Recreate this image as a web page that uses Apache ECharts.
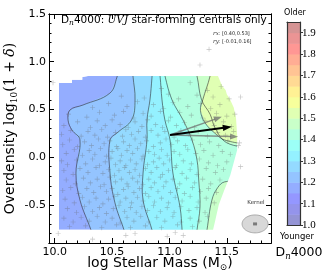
<!DOCTYPE html>
<html><head><meta charset="utf-8">
<script src="https://cdn.jsdelivr.net/npm/echarts@6/dist/echarts.min.js"></script>
<style>html,body{margin:0;padding:0;background:#fff}#c{width:323px;height:278px}</style>
</head><body><div id="c"></div>
<script>
// ---------------- data ----------------
const xRange = [9.95, 11.885];
const yRange = [-0.9, 1.5];
const xMajor = [10.0, 10.5, 11.0, 11.5];
const xMinor = [10.1, 10.2, 10.3, 10.4, 10.6, 10.7, 10.8, 10.9, 11.1, 11.2, 11.3, 11.4, 11.6, 11.7, 11.8];
const yMajor = [-0.5, 0.0, 0.5, 1.0, 1.5];
const yMinor = [-0.8, -0.7, -0.6, -0.4, -0.3, -0.2, -0.1, 0.1, 0.2, 0.3, 0.4, 0.6, 0.7, 0.8, 0.9, 1.1, 1.2, 1.3, 1.4];
const cbTicks = [1.0, 1.1, 1.2, 1.3, 1.4, 1.5, 1.6, 1.7, 1.8, 1.9];
const cbLevels = [1.0, 1.05, 1.1, 1.15, 1.2, 1.25, 1.3, 1.35, 1.4, 1.45, 1.5, 1.55, 1.6, 1.65, 1.7, 1.75, 1.8, 1.85, 1.9, 1.95];

// region where the smoothed D4000 map is defined
const maskPolygon = [
  [10.037, 0.777], [10.15, 0.777], [10.15, 0.81], [10.24, 0.81], [10.24, 0.84], [10.29, 0.85],
  [11.423, 0.85], [11.44, 0.80], [11.46, 0.745], [11.49, 0.70], [11.50, 0.66], [11.53, 0.60],
  [11.56, 0.52], [11.58, 0.41], [11.59, 0.23], [11.59, 0.075], [11.555, -0.08], [11.53, -0.19],
  [11.48, -0.34], [11.43, -0.50], [11.40, -0.66], [11.38, -0.76], [10.037, -0.76]
];
const baseLevel = 1.15;
const contourLevels = [1.2, 1.25, 1.3, 1.35, 1.4, 1.45, 1.5, 1.45];
const contour120 = [[10.55, 0.9], [10.543, 0.84], [10.48, 0.67], [10.246, 0.546], [10.133, 0.494], [10.116, 0.389], [10.15, 0.284], [10.22, 0.18], [10.185, -0.167], [10.22, -0.45], [10.316, -0.764], [10.32, -0.8]];
const contour125 = [[10.68, 0.9], [10.682, 0.85], [10.70, 0.6], [10.67, 0.39], [10.55, 0.26], [10.482, 0.18], [10.482, -0.167], [10.525, -0.48], [10.604, -0.764], [10.61, -0.8]];
const contour130 = [[10.85, 0.9], [10.848, 0.84], [10.83, 0.6], [10.804, 0.389], [10.804, 0.18], [10.77, -0.167], [10.77, -0.45], [10.848, -0.764], [10.85, -0.8]];
const contour135 = [[10.91, 0.9], [10.918, 0.85], [10.935, 0.6], [10.96, 0.39], [11.005, 0.179], [11.03, -0.167], [11.092, -0.523], [11.11, -0.764], [11.11, -0.8]];
const contour140 = [[10.96, 0.9], [10.961, 0.85], [11.022, 0.6], [11.118, 0.39], [11.196, 0.179], [11.24, -0.03], [11.255, -0.24], [11.266, -0.523], [11.24, -0.764], [11.24, -0.8]];
const contour145 = [[11.22, 0.9], [11.24, 0.85], [11.28, 0.6], [11.354, 0.45], [11.40, 0.3], [11.50, 0.15], [11.70, 0.10]];
const contour150 = [[11.35, 0.9], [11.354, 0.85], [11.29, 0.6], [11.27, 0.49], [11.31, 0.36], [11.397, 0.25], [11.48, 0.18], [11.70, 0.13]];
const contour145b = [[11.31, -0.9], [11.327, -0.764], [11.37, -0.45], [11.42, -0.32], [11.48, -0.26], [11.70, -0.24]];
const contourLines = [contour120, contour125, contour130, contour135, contour140, contour145, contour150, contour145b];

// galaxies (log M*, log10(1+delta))
const galaxies = [
  [9.985, 0.78], [11.345, 1.13], [11.266, 0.965],
  [10.93, 0.72], [11.18, 0.78], [11.33, 0.70], [11.45, 0.74],
  [10.58, 0.64], [10.78, 0.62], [10.99, 0.66], [11.08, 0.61], [11.24, 0.65], [11.38, 0.63], [11.52, 0.61],
  [10.33, 0.52], [10.47, 0.56], [10.63, 0.53], [10.72, 0.58], [10.86, 0.55], [10.95, 0.51], [11.03, 0.57], [11.16, 0.53], [11.27, 0.56], [11.36, 0.51], [11.44, 0.55],
  [10.12, 0.45], [10.28, 0.42], [10.39, 0.47], [10.52, 0.44], [10.6, 0.48], [10.69, 0.41], [10.77, 0.46], [10.84, 0.43], [10.92, 0.48], [11.01, 0.42], [11.09, 0.47], [11.19, 0.44], [11.29, 0.41], [11.41, 0.46], [11.5, 0.43], [11.57, 0.45],
  [10.08, 0.33], [10.2, 0.37], [10.31, 0.31], [10.37, 0.38], [10.44, 0.33], [10.5, 0.39], [10.57, 0.34], [10.64, 0.31], [10.7, 0.37], [10.76, 0.32], [10.81, 0.39], [10.88, 0.34], [10.94, 0.31], [10.99, 0.38], [11.06, 0.33], [11.13, 0.36], [11.22, 0.31], [11.31, 0.38], [11.39, 0.33], [11.47, 0.37], [11.54, 0.32],
  [10.06, 0.24], [10.14, 0.28], [10.23, 0.22], [10.29, 0.27], [10.35, 0.23], [10.41, 0.29], [10.46, 0.21], [10.53, 0.26], [10.59, 0.22], [10.62, 0.29], [10.67, 0.24], [10.73, 0.27], [10.79, 0.21], [10.84, 0.28], [10.9, 0.23], [10.96, 0.27], [11.04, 0.21], [11.1, 0.28], [11.17, 0.24], [11.25, 0.27], [11.33, 0.22], [11.42, 0.26], [11.49, 0.23], [11.56, 0.27],
  [10.07, 0.13], [10.13, 0.18], [10.2, 0.11], [10.26, 0.16], [10.32, 0.12], [10.38, 0.19], [10.43, 0.14], [10.48, 0.17], [10.54, 0.11], [10.6, 0.16], [10.65, 0.12], [10.7, 0.19], [10.75, 0.14], [10.8, 0.17], [10.86, 0.11], [10.92, 0.15], [10.97, 0.19], [11.02, 0.13], [11.07, 0.17], [11.14, 0.12], [11.2, 0.18], [11.27, 0.13], [11.35, 0.16], [11.43, 0.12], [11.51, 0.17],
  [10.1, 0.04], [10.17, 0.08], [10.24, 0.02], [10.3, 0.07], [10.35, 0.03], [10.4, 0.09], [10.45, 0.01], [10.5, 0.06], [10.55, 0.09], [10.58, 0.02], [10.63, 0.07], [10.68, 0.04], [10.72, 0.09], [10.77, 0.01], [10.82, 0.06], [10.87, 0.03], [10.93, 0.08], [10.98, 0.02], [11.04, 0.06], [11.09, 0.03], [11.16, 0.08], [11.23, 0.04], [11.3, 0.07], [11.38, 0.02], [11.46, 0.06], [11.53, 0.03],
  [10.06, -0.04], [10.11, -0.08], [10.19, -0.03], [10.27, -0.07], [10.33, -0.02], [10.39, -0.09], [10.44, -0.05], [10.49, -0.01], [10.53, -0.08], [10.57, -0.04], [10.62, -0.09], [10.66, -0.03], [10.71, -0.07], [10.76, -0.02], [10.81, -0.08], [10.86, -0.05], [10.91, -0.01], [10.95, -0.07], [11.0, -0.03], [11.06, -0.09], [11.12, -0.04], [11.19, -0.07], [11.26, -0.02], [11.34, -0.06], [11.42, -0.09], [11.5, -0.05],
  [10.08, -0.14], [10.16, -0.18], [10.22, -0.12], [10.29, -0.16], [10.36, -0.11], [10.42, -0.17], [10.47, -0.13], [10.52, -0.19], [10.56, -0.14], [10.61, -0.11], [10.65, -0.16], [10.7, -0.13], [10.74, -0.19], [10.79, -0.12], [10.84, -0.16], [10.89, -0.11], [10.94, -0.18], [10.99, -0.14], [11.05, -0.11], [11.11, -0.17], [11.18, -0.13], [11.24, -0.18], [11.32, -0.12], [11.4, -0.16], [11.47, -0.13],
  [10.1, -0.24], [10.18, -0.28], [10.25, -0.22], [10.31, -0.27], [10.37, -0.23], [10.43, -0.29], [10.48, -0.21], [10.53, -0.26], [10.58, -0.23], [10.63, -0.28], [10.68, -0.22], [10.72, -0.26], [10.77, -0.29], [10.82, -0.23], [10.87, -0.27], [10.92, -0.21], [10.97, -0.26], [11.03, -0.23], [11.09, -0.28], [11.15, -0.22], [11.22, -0.27], [11.29, -0.23], [11.36, -0.28], [11.44, -0.24],
  [10.07, -0.35], [10.14, -0.32], [10.21, -0.38], [10.28, -0.33], [10.34, -0.37], [10.4, -0.31], [10.45, -0.36], [10.5, -0.33], [10.55, -0.39], [10.6, -0.34], [10.64, -0.31], [10.69, -0.37], [10.74, -0.33], [10.79, -0.38], [10.84, -0.32], [10.9, -0.36], [10.95, -0.31], [11.01, -0.37], [11.07, -0.33], [11.13, -0.38], [11.2, -0.32], [11.27, -0.36], [11.34, -0.33], [11.41, -0.37],
  [10.09, -0.44], [10.17, -0.48], [10.24, -0.42], [10.3, -0.47], [10.36, -0.43], [10.42, -0.49], [10.47, -0.44], [10.52, -0.41], [10.57, -0.47], [10.62, -0.43], [10.67, -0.48], [10.72, -0.42], [10.77, -0.46], [10.82, -0.41], [10.87, -0.47], [10.93, -0.43], [10.99, -0.48], [11.05, -0.42], [11.11, -0.46], [11.18, -0.41], [11.25, -0.47], [11.32, -0.43], [11.39, -0.48],
  [10.11, -0.54], [10.19, -0.58], [10.26, -0.52], [10.33, -0.57], [10.39, -0.53], [10.45, -0.59], [10.51, -0.54], [10.56, -0.51], [10.61, -0.57], [10.66, -0.53], [10.71, -0.58], [10.76, -0.52], [10.81, -0.56], [10.86, -0.51], [10.92, -0.57], [10.98, -0.53], [11.04, -0.58], [11.1, -0.52], [11.17, -0.56], [11.24, -0.53], [11.31, -0.58],
  [10.08, -0.64], [10.16, -0.68], [10.23, -0.63], [10.3, -0.67], [10.37, -0.62], [10.44, -0.68], [10.5, -0.64], [10.57, -0.69], [10.63, -0.63], [10.69, -0.67], [10.75, -0.62], [10.82, -0.68], [10.89, -0.63], [10.96, -0.67], [11.03, -0.62], [11.1, -0.68], [11.18, -0.64], [11.26, -0.67], [11.33, -0.62],
  [10.13, -0.73], [10.27, -0.72], [10.41, -0.74], [10.54, -0.71], [10.66, -0.74], [10.79, -0.72], [10.93, -0.74], [11.07, -0.71], [11.2, -0.73],
  [10.03, -0.80], [10.33, -0.86], [10.62, -0.82], [10.7, -0.80], [10.98, -0.83], [11.05, -0.79], [11.12, -0.82],
  [11.62, 0.63], [11.61, 0.15], [11.6, 0.12], [11.62, -0.1]
];

const arrowBlack = [[11.005, 0.232], [11.543, 0.319]];
const arrowsGray = [
  [[11.005, 0.232], [11.456, 0.423]],
  [[11.005, 0.232], [11.598, 0.214]]
];
const kernelCenter = [11.746, -0.70];
const kernelRadii = [0.113, 0.094];

// ---------------- helpers ----------------
function clamp(v) { return Math.max(0, Math.min(1, v)); }
function jetAlpha(t, a) {
  const r = clamp(1.5 - Math.abs(4 * t - 3));
  const g = clamp(1.5 - Math.abs(4 * t - 2));
  const b = clamp(1.5 - Math.abs(4 * t - 1));
  const f = c => Math.round(255 * (1 - a) + a * 255 * c);
  return 'rgb(' + f(r) + ',' + f(g) + ',' + f(b) + ')';
}
const lvMin = cbLevels[0], lvMax = cbLevels[cbLevels.length - 1];
const fillAlpha = 0.42;
function bandColor(level) { return jetAlpha((level + 0.025 - lvMin) / (lvMax - lvMin), fillAlpha); }
function signedArea(pts) { let s = 0; for (let i = 0; i < pts.length; i++) { const p = pts[i], q = pts[(i + 1) % pts.length]; s += p[0] * q[1] - q[0] * p[1]; } return s; }

const plusPath = 'path://M-0.13,-1H0.13V-0.13H1V0.13H0.13V1H-0.13V0.13H-1V-0.13H-0.13Z';
const sans = 'DejaVu Sans';
const serif = 'DejaVu Serif';

const chart = echarts.init(document.getElementById('c'), null, { renderer: 'canvas' });

const gridMain = { left: 49, top: 14, width: 222, height: 229, containLabel: false, outerBoundsMode: 'none' };
const axisBlack = { color: '#000', width: 1 };

function xAx(grid, pos, ticks, len, labels, extra) {
  return Object.assign({
    type: 'value', gridIndex: grid, position: pos, min: xRange[0], max: xRange[1], z: 10,
    axisLine: { show: true, onZero: false, lineStyle: axisBlack },
    axisTick: { show: true, inside: true, length: len, customValues: ticks, lineStyle: axisBlack },
    axisLabel: { show: labels, customValues: ticks, formatter: v => v.toFixed(1), color: '#000', fontFamily: sans, fontSize: 11, margin: 4 },
    splitLine: { show: false }
  }, extra || {});
}
function yAx(grid, pos, ticks, len, labels, extra) {
  return Object.assign({
    type: 'value', gridIndex: grid, position: pos, min: yRange[0], max: yRange[1], z: 10,
    axisLine: { show: true, onZero: false, lineStyle: axisBlack },
    axisTick: { show: true, inside: true, length: len, customValues: ticks, lineStyle: axisBlack },
    axisLabel: { show: labels, customValues: ticks, formatter: v => v.toFixed(1), color: '#000', fontFamily: sans, fontSize: 11, margin: 3 },
    splitLine: { show: false }
  }, extra || {});
}

const xNameRich = {
  a: { fontFamily: sans, fontSize: 14, color: '#000', lineHeight: 18, verticalAlign: 'middle' },
  s: { fontFamily: serif, fontSize: 9, color: '#000', lineHeight: 8, verticalAlign: 'bottom' }
};
const yNameRich = {
  a: { fontFamily: sans, fontSize: 14, color: '#000', lineHeight: 18, verticalAlign: 'middle' },
  m: { fontFamily: serif, fontSize: 14, color: '#000', lineHeight: 18, verticalAlign: 'middle' },
  i: { fontFamily: serif, fontSize: 14, fontStyle: 'italic', color: '#000', lineHeight: 18, verticalAlign: 'middle' },
  s: { fontFamily: serif, fontSize: 9, color: '#000', lineHeight: 8, verticalAlign: 'bottom' }
};
const cbAxisLine = { show: true, onZero: false, lineStyle: { color: '#333', width: 1.2 } };

const option = {
  animation: false,
  backgroundColor: '#fff',
  grid: [
    Object.assign({}, gridMain),
    Object.assign({}, gridMain),
    { left: 287, top: 22, width: 13, height: 203, containLabel: false, outerBoundsMode: 'none' }
  ],
  xAxis: [
    xAx(0, 'bottom', xMajor, 5, true, {
      name: '{a|log Stellar Mass (M}{s|⊙}{a|)}', nameLocation: 'middle', nameGap: 11, nameMoveOverlap: false,
      nameTextStyle: { rich: xNameRich }
    }),
    xAx(0, 'top', xMajor, 5, false),
    xAx(1, 'bottom', xMinor, 2.5, false),
    xAx(1, 'top', xMinor, 2.5, false),
    { type: 'value', gridIndex: 2, position: 'bottom', min: 0, max: 1, z: 10, axisLine: cbAxisLine, axisTick: { show: false }, axisLabel: { show: false }, splitLine: { show: false } },
    { type: 'value', gridIndex: 2, position: 'top', min: 0, max: 1, z: 10, axisLine: cbAxisLine, axisTick: { show: false }, axisLabel: { show: false }, splitLine: { show: false } }
  ],
  yAxis: [
    yAx(0, 'left', yMajor, 5, true, {
      name: '{a|Overdensity }{m|log}{s|10}{m|(1 + }{i|δ}{m|)}', nameLocation: 'middle', nameGap: 30, nameRotate: 90, nameMoveOverlap: false,
      nameTextStyle: { rich: yNameRich }
    }),
    yAx(0, 'right', yMajor, 5, false),
    yAx(1, 'left', yMinor, 2.5, false),
    yAx(1, 'right', yMinor, 2.5, false),
    { type: 'value', gridIndex: 2, position: 'right', min: lvMin, max: lvMax, z: 10,
      axisLine: cbAxisLine,
      axisTick: { show: true, inside: false, length: 3, customValues: cbTicks, lineStyle: { color: '#333', width: 1 } },
      axisLabel: { show: true, customValues: cbTicks, formatter: v => v.toFixed(1), color: '#000', fontFamily: 'Liberation Serif', fontSize: 11, margin: 2 },
      splitLine: { show: false } },
    { type: 'value', gridIndex: 2, position: 'left', min: lvMin, max: lvMax, z: 10,
      axisLine: cbAxisLine, axisTick: { show: false }, axisLabel: { show: false }, splitLine: { show: false } }
  ],
  series: [
    // filled contour bands + lines
    {
      type: 'custom', xAxisIndex: 0, yAxisIndex: 0, clip: true, z: 2,
      data: [[-1]].concat(contourLevels.map((l, i) => [i])),
      renderItem: function (params, api) {
        const idx = api.value(0);
        if (idx < 0) {
          return { type: 'polygon', shape: { points: maskPolygon.map(p => api.coord(p)) }, style: { fill: bandColor(baseLevel), stroke: null }, z2: 0 };
        }
        const line = contourLines[idx];
        const first = line[0], last = line[line.length - 1];
        const region = line.concat([[12.2, last[1]], [12.2, first[1]]]);
        const pts = line.map(p => api.coord(p));
        return {
          type: 'group', children: [
            { type: 'polygon', shape: { points: region.map(p => api.coord(p)) }, style: { fill: bandColor(contourLevels[idx]), stroke: null }, z2: 2 * idx + 1 },
            { type: 'polyline', shape: { points: pts, smooth: 0.4 }, style: { stroke: 'rgba(40,40,40,0.7)', lineWidth: 0.8, fill: null }, z2: 50 }
          ]
        };
      }
    },
    // white outside of the map region
    {
      type: 'custom', xAxisIndex: 0, yAxisIndex: 0, clip: true, z: 3,
      data: [[0]],
      renderItem: function (params, api) {
        const outer = [[xRange[0], yRange[0]], [xRange[0], yRange[1]], [xRange[1], yRange[1]], [xRange[1], yRange[0]]];
        let inner = maskPolygon.slice();
        if (Math.sign(signedArea(outer)) === Math.sign(signedArea(inner))) inner = inner.reverse();
        const pts = outer.concat([outer[0]], inner, [inner[0]], [outer[0]]);
        return { type: 'polygon', shape: { points: pts.map(p => api.coord(p)) }, style: { fill: '#fff', stroke: null } };
      }
    },
    // galaxies
    {
      type: 'scatter', xAxisIndex: 0, yAxisIndex: 0, z: 4, data: galaxies,
      symbol: plusPath, symbolSize: 5,
      itemStyle: { color: 'rgba(100,100,100,0.5)' }, silent: true
    },
    // arrows
    {
      type: 'custom', xAxisIndex: 0, yAxisIndex: 0, z: 5, clip: false,
      data: arrowsGray.map((a, i) => [i]).concat([[-1]]),
      renderItem: function (params, api) {
        const idx = api.value(0);
        const seg = idx < 0 ? arrowBlack : arrowsGray[idx];
        const color = idx < 0 ? '#000' : 'rgba(110,110,110,0.75)';
        const lw = idx < 0 ? 1.8 : 1.5;
        const hl = idx < 0 ? 9 : 8, hw = idx < 0 ? 3.2 : 3;
        const p0 = api.coord(seg[0]), p1 = api.coord(seg[1]);
        const dx = p1[0] - p0[0], dy = p1[1] - p0[1], L = Math.sqrt(dx * dx + dy * dy);
        const ux = dx / L, uy = dy / L;
        const b = [p1[0] - ux * hl, p1[1] - uy * hl];
        return {
          type: 'group', children: [
            { type: 'line', shape: { x1: p0[0], y1: p0[1], x2: b[0] + ux * 1, y2: b[1] + uy * 1 }, style: { stroke: color, lineWidth: lw } },
            { type: 'polygon', shape: { points: [p1, [b[0] - uy * hw, b[1] + ux * hw], [b[0] + uy * hw, b[1] - ux * hw]] }, style: { fill: color } }
          ]
        };
      }
    },
    // kernel ellipse
    {
      type: 'custom', xAxisIndex: 0, yAxisIndex: 0, z: 5, clip: false,
      data: [kernelCenter],
      renderItem: function (params, api) {
        const c = api.coord([api.value(0), api.value(1)]);
        const s = api.size([kernelRadii[0], kernelRadii[1]]);
        const pts = [];
        for (let k = 0; k < 64; k++) { const a = k / 64 * Math.PI * 2; pts.push([c[0] + s[0] * Math.cos(a), c[1] + s[1] * Math.sin(a)]); }
        return {
          type: 'group', children: [
            { type: 'polygon', shape: { points: pts }, style: { fill: '#d8d8d8', stroke: '#9a9a9a', lineWidth: 0.8 } },
            { type: 'rect', shape: { x: c[0] - 2, y: c[1] - 1.5, width: 4, height: 3 }, style: { fill: '#7a7a7a' } }
          ]
        };
      }
    },
    // colorbar
    {
      type: 'custom', xAxisIndex: 4, yAxisIndex: 4, z: 2,
      data: cbLevels.slice(0, -1).map((l, i) => [l, cbLevels[i + 1]]),
      renderItem: function (params, api) {
        const lo = api.value(0), hi = api.value(1);
        const a = api.coord([0, hi]), b = api.coord([1, lo]);
        return { type: 'rect', shape: { x: a[0], y: a[1], width: b[0] - a[0], height: b[1] - a[1] + 0.5 }, style: { fill: bandColor(lo), stroke: null } };
      }
    }
  ],
  graphic: [
    { type: 'text', left: 61, top: 15, z: 20, style: { rich: {
        a: { fontFamily: sans, fontSize: 10.5, fill: '#000', lineHeight: 14, verticalAlign: 'middle' },
        s: { fontFamily: serif, fontSize: 7.5, fontStyle: 'italic', fill: '#000', lineHeight: 6, verticalAlign: 'bottom' },
        i: { fontFamily: serif, fontSize: 10.5, fontStyle: 'italic', fill: '#000', lineHeight: 14, verticalAlign: 'middle' }
      }, text: '{a|D}{s|n}{a|4000: }{i|UVJ}{a| star-forming centrals only}' } },
    { type: 'text', left: 213, top: 31, z: 20, style: { rich: {
        i: { fontFamily: serif, fontSize: 5.5, fontStyle: 'italic', fill: '#222' },
        a: { fontFamily: sans, fontSize: 5, fill: '#222' } }, text: '{i|r}{i|x}{a|: [0.40,0.53]}' } },
    { type: 'text', left: 213, top: 39, z: 20, style: { rich: {
        i: { fontFamily: serif, fontSize: 5.5, fontStyle: 'italic', fill: '#222' },
        a: { fontFamily: sans, fontSize: 5, fill: '#222' } }, text: '{i|r}{i|y}{a|: [-0.01,0.16]}' } },
    { type: 'text', x: 256, y: 203, z: 20, style: { text: 'Kernel', fontFamily: sans, fontSize: 5.5, fill: '#333', align: 'center', verticalAlign: 'middle' } },
    { type: 'text', x: 295, y: 13, z: 20, style: { text: 'Older', fontFamily: sans, fontSize: 8, fill: '#000', align: 'center', verticalAlign: 'middle' } },
    { type: 'text', x: 297, y: 237, z: 20, style: { text: 'Younger', fontFamily: sans, fontSize: 8.5, fill: '#000', align: 'center', verticalAlign: 'middle' } },
    { type: 'text', x: 299, y: 253, z: 20, style: { align: 'center', verticalAlign: 'middle', rich: {
        a: { fontFamily: sans, fontSize: 12.5, fill: '#000', lineHeight: 16, verticalAlign: 'middle' },
        s: { fontFamily: serif, fontSize: 8.5, fontStyle: 'italic', fill: '#000', lineHeight: 7, verticalAlign: 'bottom' }
      }, text: '{a|D}{s|n}{a|4000}' } }
  ]
};
chart.setOption(option);
</script>
</body></html>
